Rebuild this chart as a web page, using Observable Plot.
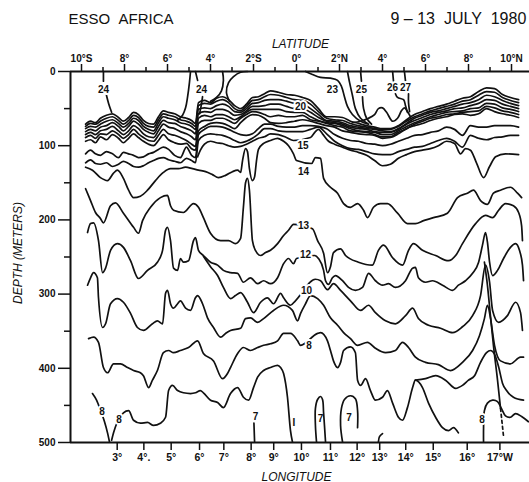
<!DOCTYPE html>
<html><head><meta charset="utf-8">
<script src="https://cdn.jsdelivr.net/npm/d3@7"></script>
<script src="https://cdn.jsdelivr.net/npm/@observablehq/plot@0.6"></script>
<style>
html,body{margin:0;padding:0;background:#fff;}
#chart svg{display:block;}
</style></head><body><div id="chart"></div>
<script>
// ---------- axis ticks ----------
const latTicks = [-10,-8,-6,-4,-2,0,2,4,6,8,10];
const latLabels = ["10°S","8°","6°","4°","2°S","0°","2°N","4°","6°","8°","10°N"];
const latMinor = [-9,-7,-5,-3,-1,1,3,5,7,9];
const lonLat = [-8.34,-7.10,-5.83,-4.51,-3.38,-2.11,-1.06,0.23,1.58,2.82,3.87,5.08,6.36,7.94,9.46];
const lonLabels = ["3°","4°.","5°","6°","7°","8°","9°","10°","11°","12°","13°","14°","15°","16°","17°W"];
const depthTicks = [0,100,200,300,400,500];
const depthMinor = [50,150,250,350,450];

// ---------- upper thermocline isotherms (latitude grid shared) ----------
const clusterLat = [-9.81,-9.58,-9.35,-9.12,-8.84,-8.56,-8.28,-8.05,-7.81,-7.58,-7.35,-7.12,-6.88,-6.65,-6.42,-6.19,-5.95,-5.67,-5.40,-5.12,-4.88,-4.70,
 -4.56,-4.28,-4.00,-3.72,-3.44,-3.16,-2.88,-2.60,-2.33,-2.05,-1.77,-1.49,-1.21,-0.84,-0.47,-0.09,0.28,0.65,1.02,1.40,1.77,2.14,2.51,2.88,3.26,3.63,4.00,4.37,4.74,5.12,5.49,5.86,6.23,6.60,6.98,7.35,7.72,8.09,8.47,8.84,9.21,9.58,9.95,10.33];
const iso24 = [71,67,69,63,59,57,62,67,62,55,58,66,70,71,61,53,55,57,61,63,66,70,
 42,39,42,36,34,38,46,50,44,35,34,30,26,28,31,32,35,39,50,61,61,62,67,70,73,75,77,77,73,65,58,54,50,47,44,40,36,34,27,22,23,31,35,38];
const iso23 = [74,70,71,67,63,61,66,71,66,59,62,70,74,75,65,57,59,61,65,67,70,74,
 46,43,44,40,38,42,50,53,47,39,38,34,31,32,35,38,39,44,54,63,65,66,70,73,75,77,78,78,74,67,61,57,53,50,47,44,40,38,32,27,28,35,39,42];
const iso22 = [77,74,75,71,67,65,70,75,70,63,66,74,78,80,69,61,63,65,69,71,74,78,
 51,49,50,46,44,47,54,55,50,43,42,39,38,38,40,43,44,50,58,66,67,69,73,75,77,78,80,81,77,70,63,59,55,53,50,47,44,42,38,32,34,39,43,46];
const iso21 = [81,78,80,75,73,69,74,80,74,67,71,78,82,84,74,66,69,70,74,77,80,84,
 57,54,55,51,51,54,59,58,53,47,47,46,44,44,47,50,50,55,62,67,69,71,75,77,78,81,82,82,78,71,66,62,58,55,53,50,49,46,43,38,39,44,47,50];
const iso20 = [85,82,85,80,78,74,80,85,80,73,77,84,88,89,80,71,75,77,81,84,88,92,
 63,59,61,58,58,61,65,61,55,51,51,51,51,51,54,55,55,61,66,69,70,73,77,80,81,82,85,85,80,74,69,65,61,58,55,54,53,50,49,43,44,49,51,54];
const iso19 = [89,86,90,84,85,80,85,90,85,78,84,89,93,94,86,78,84,86,89,93,98,101,
 70,66,66,63,63,66,70,63,58,54,55,58,61,59,61,61,59,65,67,70,73,75,80,81,82,85,88,88,82,77,71,67,63,61,58,57,55,54,53,47,49,53,55,58];
const iso18 = [94,92,96,88,92,85,90,96,90,84,89,94,98,100,93,85,92,96,98,97,104,106,
 80,74,70,69,70,73,77,69,62,58,59,63,69,70,69,67,65,67,70,73,75,80,82,84,85,86,90,89,84,77,73,70,66,63,61,58,57,59,57,50,54,57,59,62];
const iso17 = [111,106,111,113,108,111,116,109,111,113,116,115,111,109,105,102,105,113,116,102,113,116,
 85,78,74,74,75,78,82,85,86,84,77,71,71,74,75,75,73,73,74,77,85,90,93,94,97,98,100,98,94,90,86,85,82,80,75,78,86,73,75,75,73,73,73,75];
const iso16 = [123,119,124,125,123,128,125,121,124,128,129,127,123,120,117,116,119,121,123,117,120,123,
 93,86,84,85,86,89,93,96,94,90,84,77,77,80,81,81,81,78,75,84,94,100,104,105,108,111,112,112,108,105,102,101,97,93,90,94,102,86,90,92,89,88,86,86];

// ---------- deeper isotherms [latitude, depth m] ----------
const iso15 = [[-4.60,115],[-4.47,106],[-4.28,98],[-4.00,94],[-3.72,96],[-3.44,97],[-3.16,100],[-2.88,102],[-2.60,101],[-2.33,98],[-2.05,94],[-1.77,90],[-1.49,88],[-1.21,84],[-0.84,85],[-0.47,89],[-0.14,93],[0.65,89],[0.88,81],[1.02,78],[1.21,84],[1.49,94],[1.77,98],[2.14,102],[2.51,106],[2.88,109],[3.26,113],[3.63,120],[4.00,127],[4.37,125],[4.74,117],[5.12,112],[5.49,108],[5.86,106],[6.23,104],[6.60,100],[6.98,94],[7.35,97],[7.63,111],[7.86,104],[8.09,106],[8.37,123],[8.70,143],[8.98,128],[9.26,115],[9.72,111],[10.33,112]];
const iso14 = [[-9.81,129],[-9.49,133],[-9.12,143],[-8.79,147],[-8.51,137],[-8.33,133],[-8.05,144],[-7.81,160],[-7.58,170],[-7.26,168],[-6.93,160],[-6.56,147],[-6.19,136],[-5.86,131],[-5.49,131],[-5.16,129],[-4.84,131],[-4.56,133],[-4.23,135],[-3.91,139],[-3.63,143],[-3.30,140],[-2.98,135],[-2.74,133],[-2.60,136],[-2.51,120],[-2.37,104],[-2.28,108],[-2.19,131],[-2.05,147],[-1.95,142],[-1.86,120],[-1.77,105],[-1.53,97],[-1.21,93],[-0.88,90],[-0.60,94],[-0.37,100],[-0.14,111],[0,120],[0.70,124],[0.88,116],[1.12,117],[1.26,144],[1.58,156],[1.91,164],[2.19,178],[2.51,183],[2.84,178],[3.12,187],[3.30,197],[3.58,183],[3.91,178],[4.23,178],[4.70,191],[5.16,205],[5.53,205],[5.91,201],[6.37,197],[7.02,191],[7.49,170],[7.95,164],[8.23,160],[8.56,174],[8.88,179],[9.16,164],[9.49,160],[9.95,156],[10.28,164],[10.47,170]];
const iso13 = [[-9.81,158],[-9.58,174],[-9.35,190],[-9.12,198],[-8.98,204],[-8.65,181],[-8.42,177],[-8.05,191],[-7.58,210],[-7.35,218],[-7.16,201],[-6.79,183],[-6.33,170],[-6.00,167],[-5.86,181],[-5.72,187],[-5.26,190],[-4.79,178],[-4.56,183],[-4.33,197],[-4.00,218],[-3.53,228],[-3.16,228],[-2.84,232],[-2.60,225],[-2.47,183],[-2.37,150],[-2.28,144],[-2.19,160],[-2.05,228],[-1.91,241],[-1.67,248],[-1.44,244],[-1.21,241],[-0.88,232],[-0.60,221],[-0.37,214],[-0.14,206],[0.74,212],[0.98,228],[1.26,245],[1.44,271],[1.58,263],[1.72,244],[2.05,239],[2.28,248],[2.88,257],[3.53,261],[3.81,241],[4.05,234],[4.47,251],[4.93,261],[5.21,241],[5.44,232],[5.86,241],[6.47,248],[7.07,255],[7.40,248],[7.72,232],[8.33,205],[8.79,194],[9.12,197],[9.40,187],[9.72,178],[10.09,181],[10.33,190],[10.47,208],[10.51,228]];
const iso12 = [[-9.72,217],[-9.58,205],[-9.44,204],[-9.21,228],[-9.02,271],[-8.88,265],[-8.65,241],[-8.33,232],[-8.05,237],[-7.72,255],[-7.35,279],[-6.93,268],[-6.47,257],[-6.23,241],[-6.09,214],[-6.00,210],[-5.86,228],[-5.72,265],[-5.53,268],[-5.40,252],[-5.26,257],[-5.02,255],[-4.79,228],[-4.70,224],[-4.56,241],[-4.33,248],[-4.00,257],[-3.67,261],[-3.40,268],[-3.07,271],[-2.74,272],[-2.47,284],[-2.14,278],[-1.81,286],[-1.53,282],[-1.21,286],[-0.88,278],[-0.60,259],[-0.37,252],[-0.14,259],[0,252],[0.84,248],[1.02,252],[1.26,268],[1.35,282],[1.49,287],[1.67,278],[1.81,275],[2.14,282],[2.42,291],[2.74,295],[3.07,291],[3.35,272],[3.67,282],[4.00,288],[4.28,286],[4.60,291],[5.07,282],[5.40,265],[5.53,264],[5.67,278],[6.00,284],[6.33,282],[6.79,288],[7.26,295],[7.53,288],[7.86,282],[8.19,272],[8.47,257],[8.65,234],[8.79,217],[8.88,230],[8.98,257],[9.12,275],[9.35,268],[9.63,252],[9.95,237],[10.19,232],[10.37,241],[10.51,261],[10.56,282]];
const iso10 = [[-4.33,249],[-4.00,263],[-3.67,275],[-3.40,291],[-3.07,306],[-2.84,302],[-2.60,298],[-2.28,311],[-2.00,325],[-1.67,311],[-1.35,305],[-1.07,313],[-0.74,299],[-0.60,305],[-0.28,315],[-0.05,309],[0.88,280],[1.12,282],[1.44,294],[1.72,286],[2.05,295],[2.51,309],[2.98,322],[3.35,315],[3.67,325],[4.14,336],[4.60,340],[5.07,329],[5.40,319],[5.67,333],[6.14,342],[6.70,346],[7.26,352],[7.72,344],[8.19,329],[8.56,302],[8.79,261],[8.98,284],[9.12,322],[9.40,338],[9.81,329],[10.19,311],[10.42,325],[10.51,349]];
const iso9 = [[-9.72,288],[-9.58,278],[-9.44,271],[-9.26,278],[-9.21,305],[-9.02,345],[-8.88,340],[-8.65,313],[-8.33,306],[-8.05,311],[-7.72,326],[-7.40,345],[-7.12,349],[-6.70,340],[-6.47,336],[-6.23,340],[-6.09,299],[-6.00,295],[-5.86,313],[-5.72,319],[-5.53,313],[-5.40,309],[-5.16,319],[-4.93,322],[-4.70,305],[-4.60,302],[-4.37,313],[-4.14,332],[-3.86,345],[-3.53,358],[-3.30,353],[-3.07,349],[-2.60,346],[-2.37,333],[-2.14,332],[-1.81,338],[-1.53,333],[-1.07,322],[-0.60,315],[-0.19,322],[0.05,336],[0.19,326],[0.42,313],[0.65,302],[0.98,306],[1.26,315],[1.58,332],[1.91,342],[2.19,352],[2.51,360],[2.84,369],[3.30,365],[3.67,373],[4.14,379],[4.60,376],[4.93,365],[5.21,372],[5.53,385],[6.00,392],[6.60,395],[7.16,403],[7.72,392],[8.19,376],[8.51,356],[8.74,333],[8.88,315],[9.02,332],[9.21,369],[9.49,390],[9.95,394],[10.42,385],[10.56,385]];
const iso8 = [[-9.67,360],[-9.44,358],[-9.21,365],[-8.98,399],[-8.79,406],[-8.51,394],[-8.19,394],[-7.86,399],[-7.58,403],[-7.26,406],[-7.12,410],[-6.88,426],[-6.70,416],[-6.47,403],[-6.19,379],[-5.95,376],[-5.72,379],[-5.40,376],[-5.02,372],[-4.60,363],[-4.33,380],[-3.86,390],[-3.44,414],[-3.21,407],[-3.07,399],[-2.74,380],[-2.47,372],[-2.14,376],[-1.81,372],[-1.53,369],[-1.21,367],[-0.88,363],[-0.60,353],[-0.28,353],[0.05,363],[0.19,369],[0.98,353],[1.12,352],[1.44,363],[1.58,376],[1.72,390],[1.91,399],[2.05,392],[2.19,376],[2.51,371],[2.74,379],[2.84,416],[2.98,423],[3.21,414],[3.44,430],[3.67,443],[4.00,439],[4.23,430],[4.47,447],[4.74,466],[4.93,470],[5.16,453],[5.40,426],[5.53,416],[5.86,426],[6.14,447],[6.47,466],[6.79,480],[7.07,484],[7.30,480],[7.53,487]];
const iso8east = [[5.53,416],[6.00,414],[6.47,410],[6.93,416],[7.40,427],[7.72,423],[8.00,416],[8.28,410],[8.56,392],[8.84,379],[9.02,376],[9.21,381],[9.40,398],[9.58,420],[9.77,430],[10.09,439],[10.56,443]];
const iso8westA = [[-9.49,434],[-9.30,443],[-9.10,458],[-8.93,472],[-8.79,487],[-8.70,499]];
const iso8westB = [[-8.60,497],[-8.51,487],[-8.33,472],[-8.05,460],[-7.81,457],[-7.58,470],[-7.26,474],[-6.93,473],[-6.65,477],[-6.33,474],[-6.09,466],[-5.95,430],[-5.77,423],[-5.53,430],[-5.26,433],[-4.93,434],[-4.70,433],[-4.47,430],[-4.33,433],[-4.00,443],[-3.67,446],[-3.40,453],[-3.07,434],[-2.74,426],[-2.47,439],[-2.23,443],[-2.00,426],[-1.81,412],[-1.53,403],[-1.21,399],[-0.88,396],[-0.74,399],[-0.60,407],[-0.42,439],[-0.28,484],[-0.19,499]];
const iso7a = [[-1.98,474],[-1.95,499]];
const iso7b = [[0.93,499],[0.88,477],[0.88,454],[0.98,442],[1.12,438],[1.21,442],[1.26,460],[1.35,499]];
const iso7c = [[2.14,499],[2.05,477],[2.09,454],[2.23,442],[2.51,437],[2.74,441],[2.84,457],[2.84,480]];
const hook = [[3.81,499],[3.86,492],[4.00,488]];
const iso8se = [[8.70,499],[8.70,481],[8.74,457],[8.88,447],[9.12,443],[9.35,445],[9.53,454],[9.72,464],[9.95,466],[10.19,461],[10.47,465],[10.79,472]];
const diag = [[8.74,257],[8.88,288],[9.02,329],[9.16,369],[9.35,416],[9.49,454]];
const diagDash = [[9.49,454],[9.63,492]];

// ---------- near-surface isotherms ----------
const s24a = [[-8.98,0],[-8.98,13]];
const s24b = [[-8.84,32],[-8.74,43],[-8.60,55]];
const s24c = [[-4.93,0],[-4.98,15],[-5.07,35],[-5.16,49],[-5.30,59],[-5.53,66]];
const s24d = [[-4.70,0],[-4.60,12]];
const s24e = [[-4.37,34],[-4.42,44],[-4.51,57]];
const s23a = [[-3.44,0],[-3.40,12],[-3.49,26],[-3.72,35],[-4.00,40]];
const s23b = [[-3.12,40],[-3.26,28],[-3.16,15],[-2.93,7],[-2.60,1],[-2.28,0]];
const s23c = [[0.42,0],[0.74,4],[1.12,8],[1.58,9],[1.91,12],[2.09,20],[2.23,34],[2.37,47],[2.60,58],[2.98,67],[3.35,71]];
const s25a = [[2.37,0],[2.47,15],[2.60,32],[2.74,50],[2.98,63],[3.30,70]];
const s25b = [[2.98,0],[3.02,13]];
const s25c = [[3.07,34],[3.12,50],[3.26,63],[3.49,71]];
const s26 = [[2.60,69],[2.98,67],[3.35,63],[3.63,58],[3.81,50],[4.00,49],[4.19,55],[4.47,67],[4.70,63],[4.88,53],[5.02,49],[5.16,54],[5.30,61]];
const s26a = [[4.47,0],[4.51,13]];
const s26b = [[4.60,30],[4.70,35],[4.98,38],[5.07,46],[5.16,55]];
const s27a = [[5.02,0],[5.07,13]];
const s27b = [[5.21,30],[5.21,42],[5.26,54]];

// ---------- contour labels ----------
const labText  = ["24","24","20","23","25","26","27","15","14","13","12","10","8","8","8","7","8"];
const labLat   = [-8.98,-4.42,0.19,1.67,3.02,4.47,5.07,0.30,0.33,0.33,0.42,0.47,0.58,-9.05,-8.26,-1.91,8.63];
const labDepth = [24,24,47,24,24,22,22,100,135,208,247,296,369,458,469,466,469];
const domeText  = ["I","7","7"];
const domeLat   = [-0.12,1.12,2.44];
const domeDepth = [474,468,467];

// ---------- build ----------
const FONT = "'Liberation Sans', Arial, Helvetica, sans-serif";
const INK = "#111";
const SW = 1.7;
const zip = (lat, dep) => lat.map((x, i) => [x, dep[i]]);
const cl = (data, o = {}) => Plot.line(data, {x: d => d[0], y: d => d[1], stroke: INK, strokeWidth: SW, curve: "monotone-x", ...o});
const cr = (data, o = {}) => cl(data, {curve: "catmull-rom", ...o});
const lin = (data, o = {}) => cl(data, {curve: "linear", ...o});
const lonMap = new Map(lonLat.map((v, i) => [v, lonLabels[i]]));
const latMap = new Map(latTicks.map((v, i) => [v, latLabels[i]]));
const labels = labText.map((t, i) => ({t, x: labLat[i], y: labDepth[i]}));
const domeLabels = domeText.map((t, i) => ({t, x: domeLat[i], y: domeDepth[i]}));

const clusters = [iso24, iso23, iso22, iso21, iso20, iso19, iso18, iso17, iso16].map(d => cl(zip(clusterLat, d)));

const chart = Plot.plot({
  width: 529, height: 482,
  marginTop: 71, marginBottom: 40, marginLeft: 70, marginRight: 0,
  x: {domain: [-10.512, 10.837]},
  y: {domain: [0, 500], reverse: true},
  style: {fontFamily: FONT, background: "#fff", color: INK},
  marks: [
    ...clusters,
    cl(iso15), cl(iso14), cl(iso13), cl(iso12), cl(iso10), cl(iso9), cl(iso8), cl(iso8east),
    cl(iso8westA), cl(iso8westB), lin(iso7a),
    cr(iso7b), cr(iso7c), cr(hook), cr(iso8se), cl(diag),
    lin(diagDash, {strokeDasharray: "3,3"}),
    lin(s24a), cr(s24b), cr(s24c), lin(s24d), cr(s24e), cr(s23a), cr(s23b), cr(s23c),
    cr(s25a), lin(s25b), cr(s25c), cr(s26), lin(s26a), cr(s26b), lin(s27a), cr(s27b),
    Plot.text(labels, {x: "x", y: "y", text: "t", fill: INK, stroke: "#fff", strokeWidth: 4, fontSize: 10, fontWeight: "bold", fontFamily: FONT}),
    Plot.text(domeLabels, {x: "x", y: "y", text: "t", fill: INK, fontSize: 10, fontWeight: "bold", fontFamily: FONT}),
    // frame lines
    Plot.ruleY([0], {stroke: INK, strokeWidth: 2}),
    Plot.ruleY([500], {stroke: INK, strokeWidth: 2}),
    Plot.ruleX([-10.512], {stroke: INK, strokeWidth: 2}),
    // axes
    Plot.axisX(latTicks, {anchor: "top", tickSize: 8, tickPadding: 2, strokeWidth: 1.5, tickFormat: d => latMap.get(d), fontSize: 10, fontWeight: "bold", fontFamily: FONT, label: null}),
    Plot.axisX(latMinor, {anchor: "top", tickSize: 5, strokeWidth: 1.5, tickFormat: () => "", label: null}),
    Plot.axisX(lonLat, {anchor: "bottom", tickSize: 8, tickPadding: 3, strokeWidth: 1.5, tickFormat: d => lonMap.get(d), fontSize: 10.5, fontWeight: "bold", fontFamily: FONT, label: null}),
    Plot.axisY(depthTicks, {anchor: "left", tickSize: 12, tickPadding: 3, strokeWidth: 1.5, fontSize: 10, fontWeight: "bold", fontFamily: FONT, label: null}),
    Plot.axisY(depthMinor, {anchor: "left", tickSize: 6, strokeWidth: 1.5, tickFormat: () => "", label: null}),
    // titles
    Plot.text(["ESSO\u00a0\u00a0AFRICA"], {text: d => d, frameAnchor: "top-left", dx: -2, dy: -48, textAnchor: "start", lineAnchor: "bottom", fontSize: 15, fill: INK, fontFamily: FONT}),
    Plot.text(["9\u00a0–\u00a013\u00a0\u00a0JULY\u00a0\u00a01980"], {text: d => d, frameAnchor: "top-left", dx: 320, dy: -48, textAnchor: "start", lineAnchor: "bottom", fontSize: 16, fill: INK, fontFamily: FONT}),
    Plot.text(["LATITUDE"], {text: d => d, frameAnchor: "top-left", dx: 230, dy: -24, textAnchor: "middle", lineAnchor: "bottom", fontSize: 12, fontStyle: "italic", fill: INK, fontFamily: FONT}),
    Plot.text(["LONGITUDE"], {text: d => d, frameAnchor: "bottom-left", dx: 226, dy: 38, textAnchor: "middle", lineAnchor: "bottom", fontSize: 12, fontStyle: "italic", fill: INK, fontFamily: FONT}),
    Plot.text(["DEPTH (METERS)"], {text: d => d, frameAnchor: "left", dx: -52, dy: -4, rotate: -90, textAnchor: "middle", lineAnchor: "middle", fontSize: 12, fontStyle: "italic", fill: INK, fontFamily: FONT})
  ]
});
document.getElementById("chart").append(chart);
</script></body></html>
